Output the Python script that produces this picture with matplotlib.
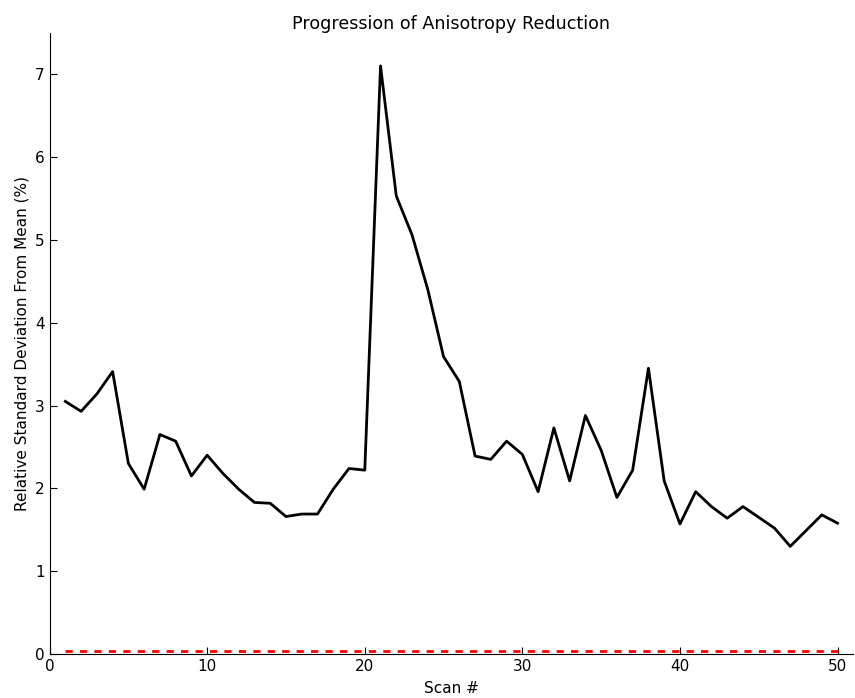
import matplotlib
matplotlib.use('Agg')
import matplotlib.pyplot as plt

scans = list(range(1, 51))
rsd = [3.05, 2.93, 3.14, 3.41, 2.30, 1.99, 2.65, 2.57, 2.15, 2.40,
       2.18, 1.99, 1.83, 1.82, 1.66, 1.69, 1.69, 1.99, 2.24, 2.22,
       7.10, 5.53, 5.06, 4.40, 3.59, 3.29, 2.39, 2.35, 2.57, 2.41,
       1.96, 2.73, 2.09, 2.88, 2.46, 1.89, 2.22, 3.45, 2.09, 1.57,
       1.96, 1.78, 1.64, 1.78, 1.65, 1.52, 1.30, 1.49, 1.68, 1.58]
target = [0.035] * len(scans)

fig = plt.figure(figsize=(8.55, 6.98), dpi=100)
ax = fig.add_axes([0.058, 0.063, 0.94, 0.89])

ax.plot(scans, rsd, color='black', lw=2)
ax.plot(scans, target, color='red', lw=2, ls='--', dashes=(2.6, 2.6), zorder=3)

ax.set_xlim(0, 51)
ax.set_ylim(0, 7.5)
ax.set_xticks([0, 10, 20, 30, 40, 50])
ax.set_yticks(range(0, 8))

ax.spines['top'].set_visible(False)
ax.spines['right'].set_visible(False)
ax.tick_params(direction='in', labelsize=11, length=5)
ax.tick_params(top=False, right=False)

ax.set_title('Progression of Anisotropy Reduction', fontsize=12.6, pad=3)
ax.set_xlabel('Scan #', fontsize=11, labelpad=5)
ax.set_ylabel('Relative Standard Deviation From Mean (%)', fontsize=11)

fig.savefig('out.png', dpi=100)
